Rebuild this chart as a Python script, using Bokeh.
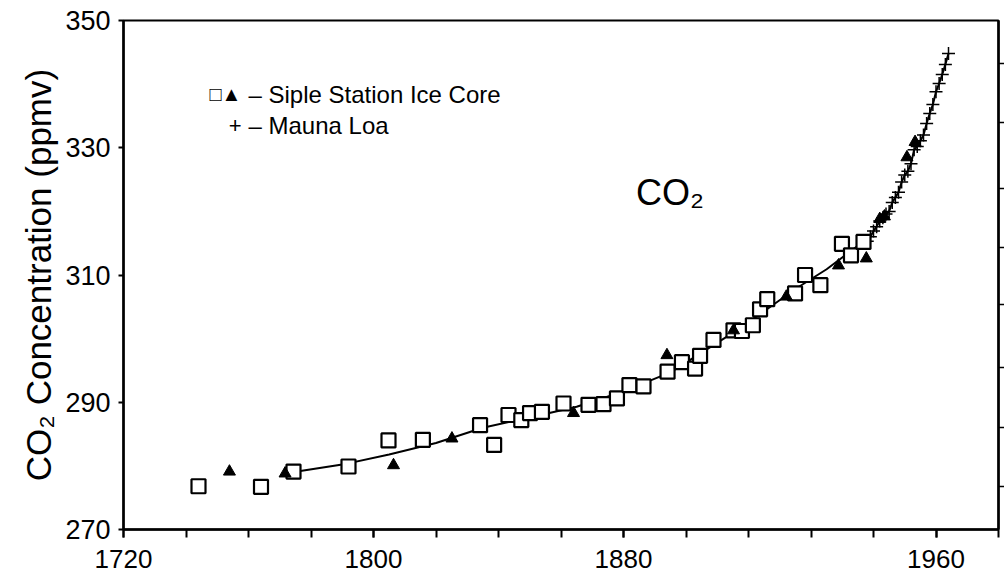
from bokeh.plotting import figure
from bokeh.models import Range1d, FixedTicker, LinearAxis, Label
from bokeh.embed import file_html
from bokeh.resources import INLINE

# --- data ---
sq_year = [1744.0, 1764.0, 1774.4, 1792.0, 1804.8, 1815.8, 1834.1, 1838.6, 1843.2,
           1847.3, 1850.1, 1853.9, 1860.8, 1868.8, 1873.6, 1877.9, 1881.9, 1886.4,
           1894.1, 1898.7, 1902.9, 1904.5, 1908.8, 1915.2, 1917.9, 1921.4, 1923.7,
           1926.0, 1934.9, 1938.1, 1943.0, 1949.9, 1952.8, 1956.8]
sq_ppm = [276.8, 276.7, 279.1, 279.9, 284.0, 284.1, 286.4, 283.3, 288.0,
          287.2, 288.3, 288.5, 289.8, 289.6, 289.7, 290.6, 292.7, 292.5,
          294.8, 296.3, 295.3, 297.3, 299.8, 301.3, 301.2, 302.1, 304.6,
          306.2, 307.1, 310.0, 308.4, 314.9, 313.1, 315.2]

tri_year = [1753.9, 1771.7, 1806.4, 1825.1, 1864.0, 1893.9, 1915.2, 1932.1,
            1948.8, 1957.7, 1962.0, 1963.5, 1970.7, 1973.3]
tri_ppm = [279.1, 278.8, 280.1, 284.3, 288.3, 297.4, 301.3, 306.6,
           311.5, 312.6, 318.8, 319.2, 328.5, 330.9]

ml_year = [1958, 1959, 1960, 1961, 1962, 1963, 1964, 1965, 1966, 1967, 1968,
           1969, 1970, 1971, 1972, 1973, 1974, 1975, 1976, 1977, 1978, 1979,
           1980, 1981, 1982, 1983, 1984]
ml_ppm = [315.3, 316.0, 316.9, 317.6, 318.5, 319.0, 319.6, 320.0, 321.4, 322.2,
          323.0, 324.6, 325.7, 326.3, 327.5, 329.7, 330.2, 331.1, 332.0, 333.8,
          335.4, 336.8, 338.8, 340.1, 341.5, 343.1, 344.8]

fit_year = [1774, 1790, 1805, 1820, 1835, 1850, 1865, 1880, 1895, 1905, 1915,
            1925, 1935, 1945, 1955]
fit_ppm = [279.0, 280.2, 281.8, 283.6, 286.0, 287.6, 289.3, 291.7, 294.7, 297.8,
           300.9, 304.3, 307.8, 310.9, 314.6]

x_minor_ticks = [1720, 1740, 1760, 1780, 1800, 1820, 1840, 1860, 1880, 1900, 1920,
                 1940, 1960, 1980, 2000]
x_label_at = [1720, 1800, 1880, 1980]
x_label_text = ["1720", "1800", "1880", "1960"]
y_ticks = [270, 290, 310, 330, 350]
right_ticks = [276.7, 286.0, 295.5, 305.3, 314.4, 323.6, 334.0, 343.2]

FONT = "Liberation Sans"

p = figure(width=1004, height=575, x_range=Range1d(1720, 2000),
           y_range=Range1d(270, 350), output_backend="svg",
           toolbar_location=None, min_border_left=123, min_border_right=6,
           min_border_top=20, min_border_bottom=46, background_fill_color="white",
           border_fill_color="white")
p.grid.visible = False
p.outline_line_color = "black"
p.outline_line_width = 2

# bottom axis: labelled ticks as majors, all 20-year ticks as minors
xa = p.xaxis[0]
xa.ticker = FixedTicker(ticks=x_label_at, minor_ticks=x_minor_ticks)
xa.major_label_overrides = {t: s for t, s in zip(x_label_at, x_label_text)}
xa.axis_line_width = 2.5
xa.major_tick_line_width = 2
xa.major_tick_out = 8
xa.major_tick_in = 0
xa.minor_tick_line_width = 2
xa.minor_tick_line_color = "black"
xa.minor_tick_out = 8
xa.minor_tick_in = 0
xa.major_label_text_font = FONT
xa.major_label_text_font_size = "26px"
xa.major_label_text_color = "black"
xa.major_label_standoff = 12

# left axis
ya = p.yaxis[0]
ya.ticker = FixedTicker(ticks=y_ticks)
ya.axis_line_width = 2.5
ya.major_tick_line_width = 2
ya.major_tick_out = 5
ya.major_tick_in = 0
ya.minor_tick_line_color = None
ya.major_label_text_font = FONT
ya.major_label_text_font_size = "27px"
ya.major_label_text_color = "black"
ya.major_label_standoff = 8
ya.axis_label = "CO\u2082 Concentration (ppmv)"
ya.axis_label_text_font = FONT
ya.axis_label_text_font_size = "35px"
ya.axis_label_text_font_style = "normal"
ya.axis_label_text_color = "black"
ya.axis_label_standoff = 4

# right axis: tick marks only (as minor ticks, no labels)
ra = LinearAxis(ticker=FixedTicker(ticks=[], minor_ticks=right_ticks))
ra.axis_line_width = 2.5
ra.major_tick_line_color = None
ra.minor_tick_out = 6
ra.minor_tick_in = 0
ra.minor_tick_line_width = 1.5
ra.minor_tick_line_color = "black"
ra.major_label_standoff = 0
p.add_layout(ra, "right")

# curve
line_x = fit_year + [y for y in ml_year if y > fit_year[-1]]
line_y = fit_ppm + [v for y, v in zip(ml_year, ml_ppm) if y > fit_year[-1]]
p.line(line_x, line_y, line_color="black", line_width=2)

p.scatter(ml_year, ml_ppm, marker="cross", size=13, line_color="black", line_width=1.5)
p.scatter(sq_year, sq_ppm, marker="square", size=14, fill_color="white",
          line_color="black", line_width=2.2)
p.scatter(tri_year, tri_ppm, marker="triangle", size=12, fill_color="black",
          line_color="black", line_width=1)

# legend drawn as text
p.add_layout(Label(x=1747.5, y=338.4, text="\u25a1\u25b2", text_font=FONT,
                   text_font_size="20px", text_baseline="middle", text_color="black"))
p.add_layout(Label(x=1755.7, y=333.5, text="+", text_font=FONT, text_align="center",
                   text_font_size="22px", text_baseline="middle", text_color="black"))
p.add_layout(Label(x=1760.0, y=338.4, text="\u2013 Siple Station Ice Core", text_font=FONT,
                   text_font_size="24px", text_baseline="middle", text_color="black"))
p.add_layout(Label(x=1760.0, y=333.5, text="\u2013 Mauna Loa", text_font=FONT,
                   text_font_size="24px", text_baseline="middle", text_color="black"))
p.add_layout(Label(x=1884.0, y=323.0, text="CO\u2082", text_font=FONT,
                   text_font_size="36px", text_baseline="middle", text_color="black"))

open("out.html", "w").write(file_html(p, INLINE))
